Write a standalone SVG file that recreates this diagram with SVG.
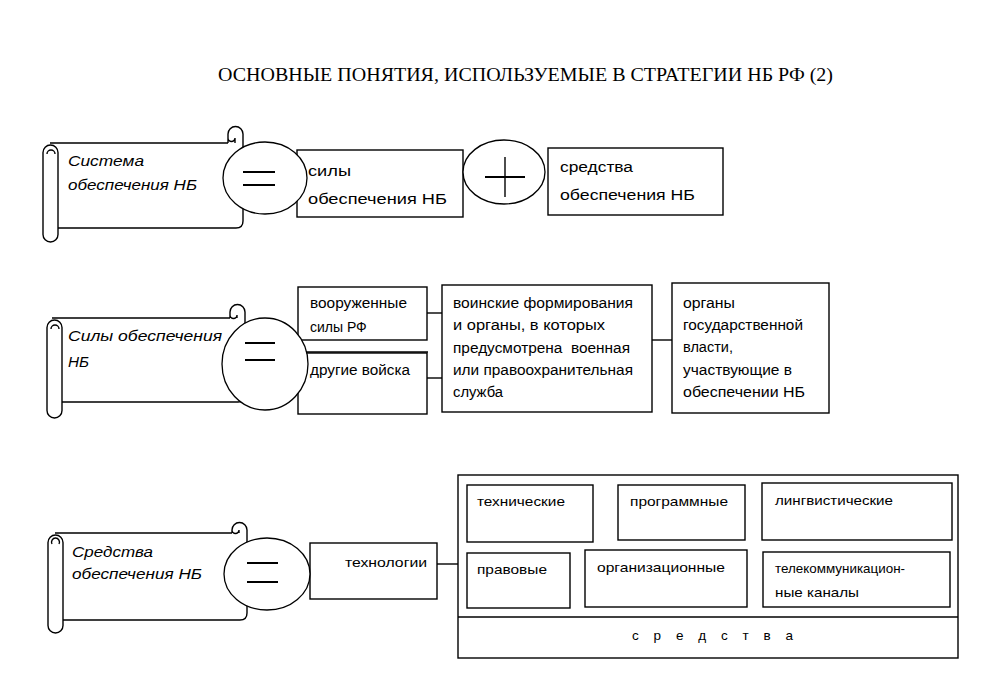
<svg xmlns="http://www.w3.org/2000/svg" width="981" height="691" viewBox="0 0 981 691">
<style>
.ln{fill:none;stroke:#000;stroke-width:1.4}
.bx{fill:#fff;stroke:#000;stroke-width:1.4}
.ci{fill:#fff;stroke:#000;stroke-width:1.3}
.eq{stroke:#000;stroke-width:2}
.t{font-family:"Liberation Sans","DejaVu Sans",sans-serif;font-size:14px;fill:#000}
.ti{font-family:"Liberation Sans","DejaVu Sans",sans-serif;font-size:15.5px;font-style:italic;fill:#000}
.s{font-size:13.5px}
.title{font-family:"Liberation Serif","DejaVu Serif",serif;font-size:18px;fill:#000}
</style>
<rect width="981" height="691" fill="#fff"/>
<text class="title" x="218" y="81" textLength="615" lengthAdjust="spacingAndGlyphs">ОСНОВНЫЕ ПОНЯТИЯ, ИСПОЛЬЗУЕМЫЕ В СТРАТЕГИИ НБ РФ (2)</text>

<g id="connectors">
<line class="ln" x1="427" y1="313" x2="442" y2="313"/>
<line class="ln" x1="427" y1="378" x2="442" y2="378" stroke-width="2.6"/>
<line class="ln" x1="652" y1="340" x2="672" y2="340"/>
<line class="ln" x1="437" y1="564" x2="458" y2="564" stroke-width="1.8"/>
</g>

<g id="scroll1">
<path class="ln" d="M50,143 L228,143 M228,143 L228,134 A7.5,7.5 0 0 1 243,134 L243,221 Q243,228 236,228 L58,228 M228,138 A3.5,3.5 0 0 0 235,138 L235,143"/>
<rect class="bx" x="43" y="145" width="15" height="97" rx="7.5"/>
<path class="ln" d="M47,154 A4,4 0 1 1 55,154"/>
<text class="ti" x="68" y="166" textLength="76" lengthAdjust="spacingAndGlyphs">Система</text>
<text class="ti" x="68" y="190" textLength="129" lengthAdjust="spacingAndGlyphs">обеспечения НБ</text>
</g>

<g id="box-sily">
<rect class="bx" x="297" y="150" width="166" height="67"/>
<text class="t" x="308" y="176" textLength="43" lengthAdjust="spacingAndGlyphs">силы</text>
<text class="t" x="308" y="204" textLength="139" lengthAdjust="spacingAndGlyphs">обеспечения НБ</text>
</g>
<g id="box-sredstva">
<rect class="bx" x="548" y="148" width="175" height="67"/>
<text class="t" x="560" y="172" textLength="73" lengthAdjust="spacingAndGlyphs">средства</text>
<text class="t" x="560" y="200" textLength="135" lengthAdjust="spacingAndGlyphs">обеспечения НБ</text>
</g>
<g id="eq1">
<ellipse class="ci" cx="265" cy="178" rx="42" ry="36"/>
<line class="eq" x1="243" y1="172" x2="275" y2="172"/>
<line class="eq" x1="243" y1="185" x2="275" y2="185"/>
</g>
<g id="plus1">
<ellipse class="ci" cx="504" cy="172" rx="41" ry="32"/>
<line class="eq" x1="485" y1="177" x2="525" y2="177"/>
<line class="ln" x1="505" y1="157" x2="505" y2="197"/>
</g>

<g id="scroll2">
<path class="ln" d="M52,318 L230,318 M230,318 L230,312 A7.5,7.5 0 0 1 245,312 L245,395 Q245,402 238,402 L62,402 M230,315 A3.5,3.5 0 0 0 237,315 L237,318"/>
<rect class="bx" x="47" y="320" width="15" height="98" rx="7.5"/>
<path class="ln" d="M51,329 A4,4 0 1 1 59,329"/>
<text class="ti" x="68" y="341" textLength="154" lengthAdjust="spacingAndGlyphs">Силы обеспечения</text>
<text class="ti" x="68" y="367" textLength="21" lengthAdjust="spacingAndGlyphs">НБ</text>
</g>
<g id="box-vs">
<rect class="bx" x="298" y="287" width="129" height="53"/>
<text class="t" x="310" y="308" textLength="97" lengthAdjust="spacingAndGlyphs">вооруженные</text>
<text class="t" x="310" y="332">силы РФ</text>
</g>
<g id="box-drugie">
<rect class="bx" x="298" y="353" width="129" height="61"/>
<line class="ln" x1="298" y1="352" x2="428" y2="352" stroke-width="2.6"/>
<text class="t" x="310" y="375" textLength="100" lengthAdjust="spacingAndGlyphs">другие войска</text>
</g>
<g id="box-voinskie">
<rect class="bx" x="442" y="285" width="210" height="127"/>
<text class="t" x="453" y="308" textLength="180" lengthAdjust="spacingAndGlyphs">воинские формирования</text>
<text class="t" x="453" y="330" textLength="152" lengthAdjust="spacingAndGlyphs">и органы, в которых</text>
<text class="t" x="453" y="353" textLength="177" lengthAdjust="spacingAndGlyphs" xml:space="preserve">предусмотрена  военная</text>
<text class="t" x="453" y="375" textLength="180" lengthAdjust="spacingAndGlyphs">или правоохранительная</text>
<text class="t" x="453" y="397" textLength="50" lengthAdjust="spacingAndGlyphs">служба</text>
</g>
<g id="box-organy">
<rect class="bx" x="672" y="283" width="157" height="130"/>
<text class="t" x="683" y="308" textLength="52" lengthAdjust="spacingAndGlyphs">органы</text>
<text class="t" x="683" y="330" textLength="120" lengthAdjust="spacingAndGlyphs">государственной</text>
<text class="t" x="683" y="352" textLength="50" lengthAdjust="spacingAndGlyphs">власти,</text>
<text class="t" x="683" y="375" textLength="109" lengthAdjust="spacingAndGlyphs">участвующие в</text>
<text class="t" x="683" y="397" textLength="122" lengthAdjust="spacingAndGlyphs">обеспечении НБ</text>
</g>
<g id="eq2">
<ellipse class="ci" cx="265" cy="364" rx="43" ry="46"/>
<line class="eq" x1="245" y1="343" x2="275" y2="343"/>
<line class="eq" x1="245" y1="360" x2="275" y2="360"/>
</g>

<g id="scroll3">
<path class="ln" d="M55,533 L232,533 M232,533 L232,530 A7.5,7.5 0 0 1 247,530 L247,613 Q247,620 240,620 L63,620 M232,530 A3.5,3.5 0 0 0 239,530 L239,533"/>
<rect class="bx" x="48" y="535" width="15" height="98" rx="7.5"/>
<path class="ln" d="M52,544 A4,4 0 1 1 59,544"/>
<text class="ti" x="72" y="557" textLength="81" lengthAdjust="spacingAndGlyphs">Средства</text>
<text class="ti" x="72" y="579" textLength="130" lengthAdjust="spacingAndGlyphs">обеспечения НБ</text>
</g>
<g id="box-tech">
<rect class="bx" x="310" y="543" width="127" height="56"/>
<text class="t s" x="345" y="567" textLength="82" lengthAdjust="spacingAndGlyphs">технологии</text>
</g>
<g id="eq3">
<ellipse class="ci" cx="267" cy="574" rx="43" ry="36"/>
<line class="eq" x1="247" y1="563" x2="278" y2="563"/>
<line class="eq" x1="247" y1="582" x2="278" y2="582"/>
</g>

<g id="sredstva-group">
<rect class="bx" x="458" y="475" width="500" height="183"/>
<line class="ln" x1="458" y1="617" x2="958" y2="617"/>
<text class="t s" x="632" y="640" textLength="161" lengthAdjust="spacing">с р е д с т в а</text>
</g>
<g id="box-technicheskie">
<rect class="bx" x="467" y="485" width="126" height="57"/>
<text class="t s" x="477" y="506" textLength="88" lengthAdjust="spacingAndGlyphs">технические</text>
</g>
<g id="box-programmnye">
<rect class="bx" x="618" y="485" width="127" height="55"/>
<text class="t s" x="630" y="506" textLength="98" lengthAdjust="spacingAndGlyphs">программные</text>
</g>
<g id="box-lingv">
<rect class="bx" x="762" y="483" width="190" height="57"/>
<text class="t s" x="775" y="505" textLength="118" lengthAdjust="spacingAndGlyphs">лингвистические</text>
</g>
<g id="box-pravovye">
<rect class="bx" x="467" y="553" width="103" height="55"/>
<text class="t s" x="477" y="574" textLength="70" lengthAdjust="spacingAndGlyphs">правовые</text>
</g>
<g id="box-org">
<rect class="bx" x="585" y="550" width="162" height="57"/>
<text class="t s" x="597" y="572" textLength="128" lengthAdjust="spacingAndGlyphs">организационные</text>
</g>
<g id="box-telecom">
<rect class="bx" x="763" y="552" width="187" height="55"/>
<text class="t s" x="775" y="573" textLength="130" lengthAdjust="spacingAndGlyphs">телекоммуникацион-</text>
<text class="t s" x="775" y="597" textLength="84" lengthAdjust="spacingAndGlyphs">ные каналы</text>
</g>
</svg>
